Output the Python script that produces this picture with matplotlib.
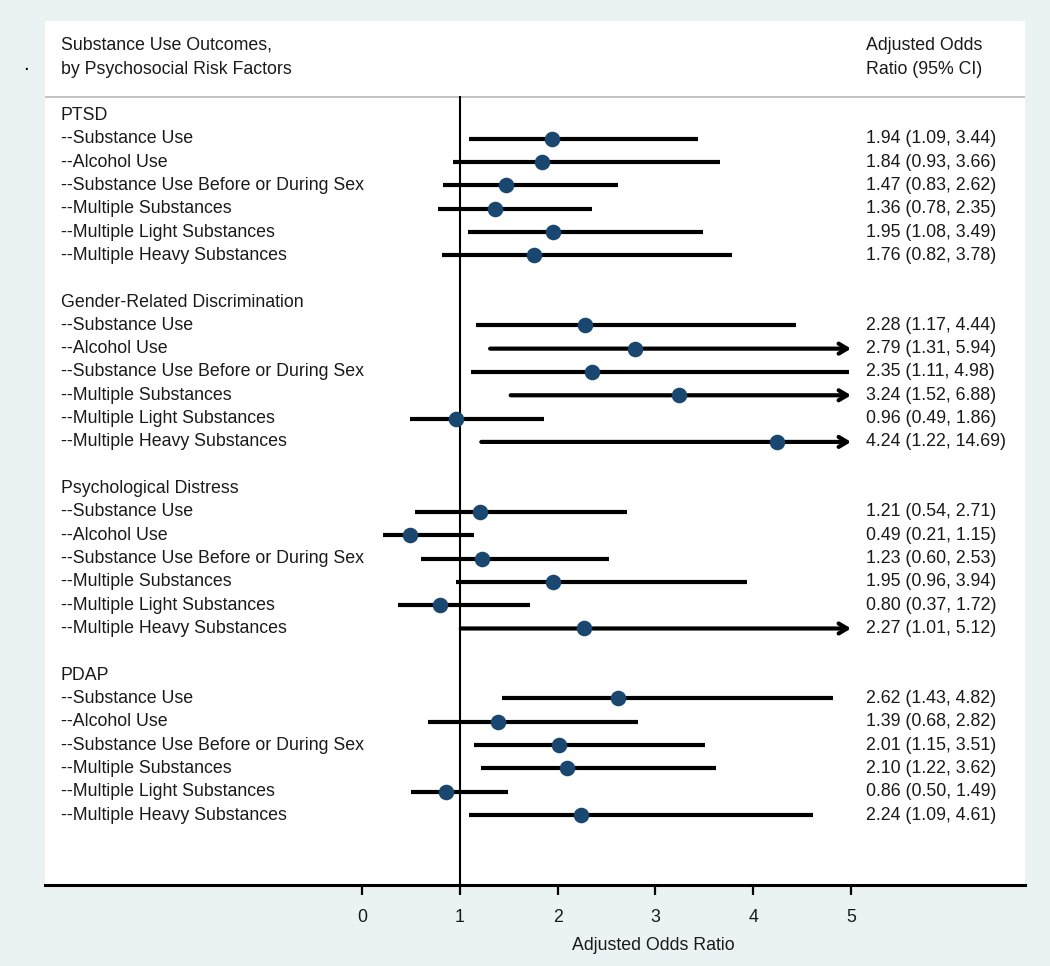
import numpy as np
import matplotlib
matplotlib.use("Agg")
import matplotlib.pyplot as plt

plt.rcParams['font.family'] = ['Liberation Sans', 'DejaVu Sans']

groups = ["PTSD", "Gender-Related Discrimination", "Psychological Distress", "PDAP"]
outcomes = ["--Substance Use", "--Alcohol Use", "--Substance Use Before or During Sex",
            "--Multiple Substances", "--Multiple Light Substances", "--Multiple Heavy Substances"]

aor = [[1.94, 1.84, 1.47, 1.36, 1.95, 1.76],
       [2.28, 2.79, 2.35, 3.24, 0.96, 4.24],
       [1.21, 0.49, 1.23, 1.95, 0.80, 2.27],
       [2.62, 1.39, 2.01, 2.10, 0.86, 2.24]]
lower = [[1.09, 0.93, 0.83, 0.78, 1.08, 0.82],
         [1.17, 1.31, 1.11, 1.52, 0.49, 1.22],
         [0.54, 0.21, 0.60, 0.96, 0.37, 1.01],
         [1.43, 0.68, 1.15, 1.22, 0.50, 1.09]]
upper = [[3.44, 3.66, 2.62, 2.35, 3.49, 3.78],
         [4.44, 5.94, 4.98, 6.88, 1.86, 14.69],
         [2.71, 1.15, 2.53, 3.94, 1.72, 5.12],
         [4.82, 2.82, 3.51, 3.62, 1.49, 4.61]]

xticks = [0, 1, 2, 3, 4, 5]
xmax_show = 5

bg = '#eaf2f3'
navy = '#1a476f'
txt = '#1a1a1a'
fs = 12.8

fig = plt.figure(figsize=(10.5, 9.66), dpi=100, facecolor=bg)
ax = fig.add_axes([45/1050, 1-885/966, 980/1050, 864/966])
ax.set_facecolor('white')

ax.set_xlim(-3.241, 6.779)
ax.set_ylim(33.0, -4.05)

for s in ['top', 'right', 'left']:
    ax.spines[s].set_visible(False)
ax.spines['bottom'].set_linewidth(2.2)
ax.spines['bottom'].set_color('black')
ax.set_yticks([])
ax.set_xticks(xticks)
ax.tick_params(axis='x', length=7, width=1.6, color='black', labelsize=fs,
               labelcolor=txt, pad=10)
ax.set_xlabel("Adjusted Odds Ratio", fontsize=fs, color=txt)
ax.xaxis.set_label_coords(0.621, -0.060)

# header
ylab = ax.get_yaxis_transform()
ax.axhline(-0.77, color='#b8b8b8', lw=1.2)
ax.text(0.0163, -3.0, "Substance Use Outcomes,", transform=ylab,
        fontsize=fs, color=txt, va='center')
ax.text(0.0163, -1.97, "by Psychosocial Risk Factors", transform=ylab,
        fontsize=fs, color=txt, va='center')
ax.text(0.838, -3.0, "Adjusted Odds", transform=ylab,
        fontsize=fs, color=txt, va='center')
ax.text(0.838, -1.97, "Ratio (95% CI)", transform=ylab,
        fontsize=fs, color=txt, va='center')

# reference line at 1
ax.plot([1, 1], [-0.77, 33.0], color='black', lw=1.5, zorder=2, clip_on=False)

row = 0
for g in range(len(groups)):
    ax.text(0.0163, row, groups[g], transform=ylab,
            fontsize=fs, color=txt, va='center')
    row += 1
    for k in range(len(outcomes)):
        ax.text(0.0163, row, outcomes[k], transform=ylab,
                fontsize=fs, color=txt, va='center')
        lo, hi, est = lower[g][k], upper[g][k], aor[g][k]
        if hi > xmax_show:
            ax.annotate("", xy=(xmax_show, row), xytext=(lo, row),
                        arrowprops=dict(arrowstyle='->,head_length=0.6,head_width=0.36',
                                        lw=3.0, color='black', shrinkA=0, shrinkB=0),
                        zorder=3)
        else:
            ax.plot([lo, hi], [row, row], color='black', lw=3.0,
                    solid_capstyle='butt', zorder=3)
        ax.plot(est, row, 'o', color=navy, markersize=10.2, zorder=4)
        ax.text(0.838, row, "%.2f (%.2f, %.2f)" % (est, lo, hi),
                transform=ylab, fontsize=fs, color=txt, va='center')
        row += 1
    row += 1

fig.text(26/1050, 1-64/966, ".", fontsize=fs + 2, color='black', ha='center', va='center')

fig.savefig("out.png", dpi=100, facecolor=bg)
